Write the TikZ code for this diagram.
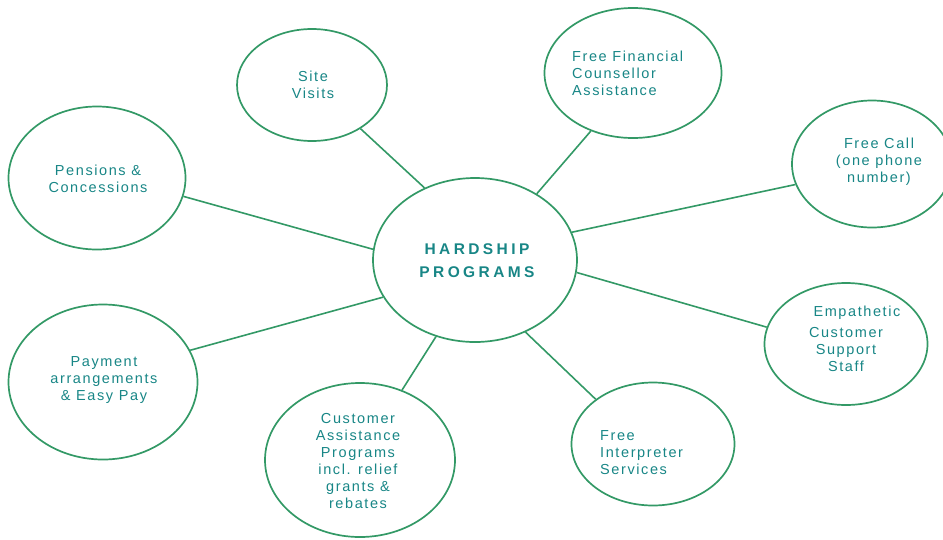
\documentclass[tikz,border=0pt]{standalone}
\usepackage{fontspec}
\setmainfont{Liberation Sans}
\usetikzlibrary{shapes.geometric}

\definecolor{linegreen}{RGB}{51,153,102}
\definecolor{textteal}{RGB}{24,134,134}

\tikzset{
  bubble/.style={draw=linegreen, line width=1.7pt, ellipse, inner sep=0pt},
  link/.style={draw=linegreen, line width=1.6pt},
  txt/.style={text=textteal, align=center, inner sep=0pt,
    font=\fontsize{14.5}{17}\selectfont\addfontfeature{LetterSpace=11}},
  hubtxt/.style={text=textteal, align=center, inner sep=0pt,
    font=\fontsize{15.5}{23}\selectfont\bfseries\addfontfeature{LetterSpace=22}}
}

\begin{document}
\begin{tikzpicture}[x=1pt,y=-1pt]
\useasboundingbox (0,0) rectangle (943,539);

% bubbles
\node[bubble, minimum width=204, minimum height=164] (hub) at (475,260) {};
\node[bubble, minimum width=150, minimum height=112] (site) at (312,85) {};
\node[bubble, minimum width=177, minimum height=130] (fin) at (633,73) {};
\node[bubble, minimum width=160, minimum height=127] (call) at (872,164) {};
\node[bubble, minimum width=177, minimum height=143] (pens) at (97,178) {};
\node[bubble, minimum width=189, minimum height=155] (pay) at (103,382) {};
\node[bubble, minimum width=190, minimum height=154] (cap) at (360,460) {};
\node[bubble, minimum width=163, minimum height=123] (interp) at (653,444) {};
\node[bubble, minimum width=163, minimum height=122] (staff) at (846,344) {};

% texts
\node[hubtxt] (hub-txt) at (477,261) {HARDSHIP\\PROGRAMS};
\node[txt] (site-txt) at (313,85) {Site\\Visits};
\node[txt, align=left, anchor=west] (fin-txt) at (572,73) {Free Financial\\Counsellor\\Assistance};
\node[txt] (call-txt) at (879,162) {Free Call\\(one phone\\number)};
\node[txt] (pens-txt) at (98,179) {Pensions \&\\Concessions};
\node[txt] (pay-txt) at (104,380) {Payment\\arrangements\\\& Easy Pay};
\node[txt] (cap-txt) at (358,461) {Customer\\Assistance\\Programs\\incl. relief\\grants \&\\rebates};
\node[txt, align=left, anchor=west] (interp-txt) at (600,453) {Free\\Interpreter\\Services};
\node[txt] (staff-txt) at (846,339) {\hspace*{22pt}Empathetic\\[4pt]Customer\\Support\\Staff};

% spokes
\draw[link] (hub.125) -- (site.318);
\draw[link] (hub.47) -- (fin.234);
\draw[link] (hub.16) -- (call.195);
\draw[link] (hub.174) -- (pens.348);
\draw[link] (hub.202) -- (pay.20);
\draw[link] (hub.243) -- (cap.59);
\draw[link] (hub.305) -- (interp.142);
\draw[link] (hub.353) -- (staff.168);
\end{tikzpicture}
\end{document}
